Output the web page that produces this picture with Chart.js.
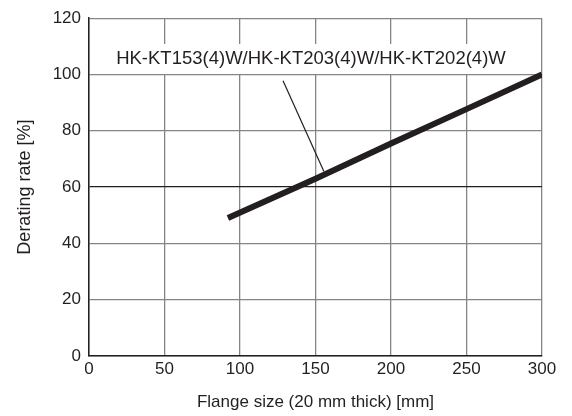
<!DOCTYPE html>
<html lang="en">
<head>
    <meta charset="UTF-8">
    <title>Derating rate vs flange size</title>
    <script src="https://cdn.jsdelivr.net/npm/chart.js"></script>
    <style>
        html, body { margin: 0; padding: 0; background: #fff; }
        #wrap { width: 572px; height: 416px; }
    </style>
</head>
<body>
    <div id="wrap"><canvas id="chart" width="572" height="416"></canvas></div>

    <script>
        // values
        const flangeSize = [92, 150, 200, 250, 300];
        const deratingRate = [49, 63, 75.5, 87.7, 100];
        const leaderX = [128.5, 155.5];
        const leaderY = [97.8, 65.6];
        const xTicks = [0, 50, 100, 150, 200, 250, 300];
        const yTicks = [0, 20, 40, 60, 80, 100, 120];
        const seriesLabel = 'HK-KT153(4)W/HK-KT203(4)W/HK-KT202(4)W';
        const labelAt = { x: 147, y: 105.5 };

        const ink = '#231f20';
        const fontFamily = '"Liberation Sans", Arial, sans-serif';

        // series name drawn at a data position, on a white box over the grid
        const seriesText = {
            id: 'seriesText',
            afterDatasetsDraw(chart) {
                const ctx = chart.ctx;
                const x = chart.scales.x.getPixelForValue(labelAt.x);
                const y = chart.scales.y.getPixelForValue(labelAt.y);
                ctx.save();
                ctx.fillStyle = '#fff';
                ctx.font = '18.5px ' + fontFamily;
                const w = ctx.measureText(seriesLabel).width;
                ctx.fillRect(x - w / 2 - 5, y - 15, w + 10, 30);
                ctx.fillStyle = ink;
                ctx.textAlign = 'center';
                ctx.textBaseline = 'middle';
                ctx.fillText(seriesLabel, x, y);
                ctx.restore();
            }
        };

        function gridColor(ctx) {
            const v = ctx.tick ? ctx.tick.value : null;
            if (v === 60) return '#231f20';
            return '#858585';
        }

        new Chart(document.getElementById('chart'), {
            type: 'scatter',
            data: {
                datasets: [
                    {
                        data: flangeSize.map((x, i) => ({ x: x, y: deratingRate[i] })),
                        showLine: true,
                        borderColor: ink,
                        borderWidth: 6,
                        pointRadius: 0,
                        borderCapStyle: 'butt'
                    },
                    {
                        data: leaderX.map((x, i) => ({ x: x, y: leaderY[i] })),
                        showLine: true,
                        borderColor: ink,
                        borderWidth: 1.2,
                        pointRadius: 0
                    }
                ]
            },
            options: {
                responsive: false,
                animation: false,
                layout: { padding: { top: 16, right: 30, left: 0, bottom: 0 } },
                plugins: {
                    legend: { display: false },
                    tooltip: { enabled: false }
                },
                scales: {
                    x: {
                        type: 'linear',
                        min: 0,
                        max: 300,
                        afterBuildTicks: s => { s.ticks = xTicks.map(v => ({ value: v })); },
                        afterFit: s => { s.height = 60; },
                        grid: { color: gridColor, lineWidth: 1.3, drawTicks: false },
                        border: { color: ink, width: 1.5 },
                        ticks: { color: ink, padding: 3, font: { family: fontFamily, size: 17 } },
                        title: {
                            display: true,
                            text: 'Flange size (20 mm thick) [mm]',
                            color: ink,
                            padding: { top: 0, bottom: 3 },
                            font: { family: fontFamily, size: 17 }
                        }
                    },
                    y: {
                        min: 0,
                        max: 120,
                        afterBuildTicks: s => { s.ticks = yTicks.map(v => ({ value: v })); },
                        afterFit: s => { s.width = 89; },
                        grid: { color: gridColor, lineWidth: 1.3, drawTicks: false },
                        border: { color: ink, width: 1.5 },
                        ticks: { color: ink, padding: 8, font: { family: fontFamily, size: 17 } },
                        title: {
                            display: true,
                            text: 'Derating rate [%]',
                            color: ink,
                            padding: { top: 14, bottom: 0 },
                            font: { family: fontFamily, size: 18 }
                        }
                    }
                }
            },
            plugins: [seriesText]
        });
    </script>
</body>
</html>
